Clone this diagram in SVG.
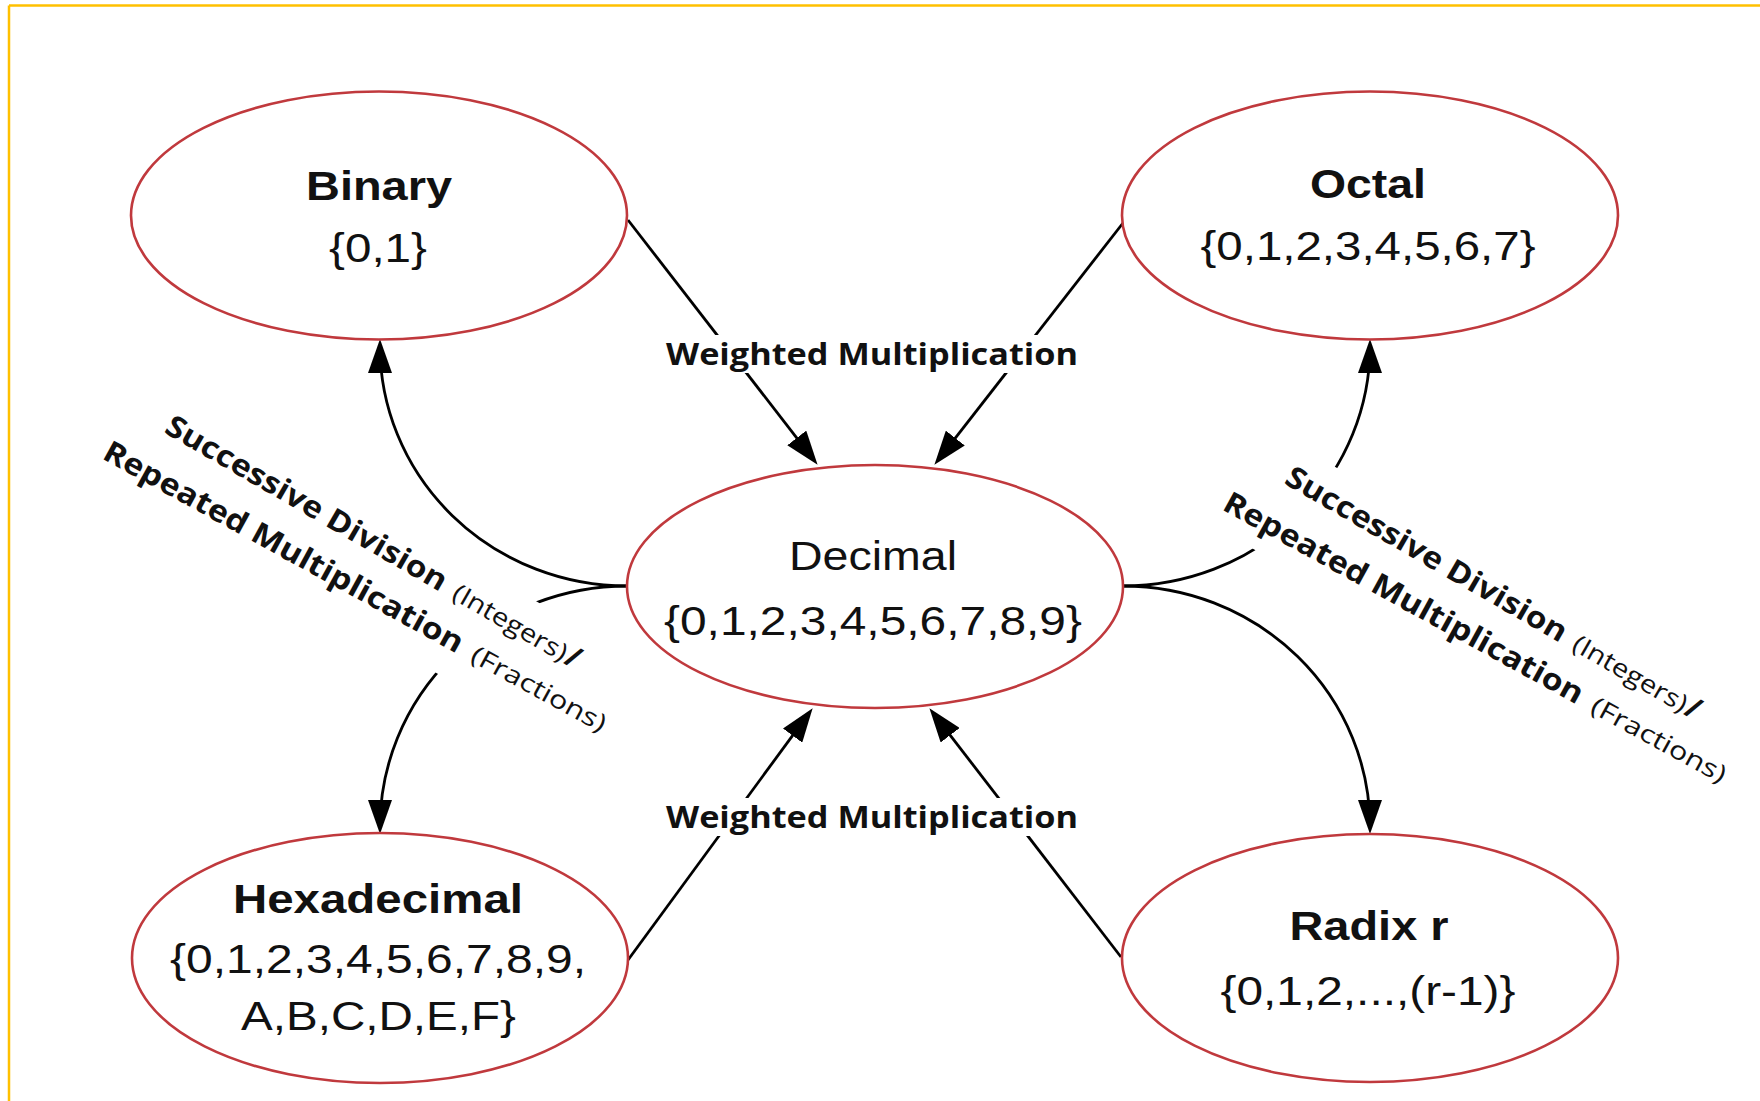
<svg xmlns="http://www.w3.org/2000/svg" width="1760" height="1101" viewBox="0 0 1760 1101">
<defs>
<style>
.node{fill:#ffffff;stroke:#C0393D;stroke-width:2.6}
.title{font-family:"Liberation Sans",Arial,sans-serif;font-weight:bold;font-size:41px;fill:#111}
.set{font-family:"Liberation Sans",Arial,sans-serif;font-size:41px;fill:#111}
.conn{fill:none;stroke:#000;stroke-width:2.8}
.lbl{font-family:"Open Sans","Noto Sans",sans-serif;font-weight:bold;font-size:31px;fill:#111}
.rl{font-family:"Open Sans","Noto Sans",sans-serif;font-weight:bold;font-size:30px;fill:#111}
.sm{font-family:"Open Sans","Noto Sans",sans-serif;font-size:25px;fill:#111}
.bg{fill:#ffffff}
</style>
<marker id="ah" viewBox="0 0 34 24" refX="27" refY="12" markerWidth="34" markerHeight="24" markerUnits="userSpaceOnUse" orient="auto">
<path d="M0,0 L34,12 L0,24 z" fill="#000"/>
</marker>
</defs>
<rect x="0" y="0" width="1760" height="1101" fill="#ffffff"/>
<g id="frame" stroke="#FFC000" stroke-width="2.5" fill="none">
<line x1="9" y1="5.5" x2="1760" y2="5.5"/>
<line x1="9" y1="5.5" x2="9" y2="1101"/>
</g>
<g id="connectors">
<line class="conn" x1="628" y1="220" x2="813.3" y2="459.3" marker-end="url(#ah)"/>
<line class="conn" x1="1123" y1="223" x2="938.7" y2="459.3" marker-end="url(#ah)"/>
<line class="conn" x1="628" y1="960" x2="808.5" y2="713.8" marker-end="url(#ah)"/>
<line class="conn" x1="1121" y1="957" x2="933.7" y2="713.8" marker-end="url(#ah)"/>
<path class="conn" d="M627,586 A247,240 0 0 1 380,346" marker-end="url(#ah)"/>
<path class="conn" d="M627,586 A247,241 0 0 0 380,827" marker-end="url(#ah)"/>
<path class="conn" d="M1123,586 A247,240 0 0 0 1370,346" marker-end="url(#ah)"/>
<path class="conn" d="M1123,586 A247,241 0 0 1 1370,827" marker-end="url(#ah)"/>
</g>
<g id="labels">
<rect class="bg" x="660" y="335" width="425" height="38"/>
<text class="lbl" x="872" y="365" text-anchor="middle" textLength="412" lengthAdjust="spacingAndGlyphs">Weighted Multiplication</text>
<rect class="bg" x="660" y="798" width="425" height="38"/>
<text class="lbl" x="872" y="828" text-anchor="middle" textLength="412" lengthAdjust="spacingAndGlyphs">Weighted Multiplication</text>
<g id="label-left">
<g transform="translate(163,432) rotate(30)">
<rect class="bg" x="-60" y="-40" width="650" height="112"/>
<text class="rl" x="0" y="0" textLength="320" lengthAdjust="spacingAndGlyphs">Successive Division</text>
<text class="sm" x="332" y="0" textLength="128" lengthAdjust="spacingAndGlyphs">(Integers)</text>
<text class="rl" x="462" y="0">/</text>
</g>
<g transform="translate(101,458) rotate(28.8)">
<text class="rl" x="0" y="0" textLength="406" lengthAdjust="spacingAndGlyphs">Repeated Multiplication</text>
<text class="sm" x="420" y="0" textLength="150" lengthAdjust="spacingAndGlyphs">(Fractions)</text>
</g>
</g>
<g id="label-right">
<g transform="translate(1283,483) rotate(30)">
<rect class="bg" x="-60" y="-40" width="650" height="112"/>
<text class="rl" x="0" y="0" textLength="320" lengthAdjust="spacingAndGlyphs">Successive Division</text>
<text class="sm" x="332" y="0" textLength="128" lengthAdjust="spacingAndGlyphs">(Integers)</text>
<text class="rl" x="462" y="0">/</text>
</g>
<g transform="translate(1221,509) rotate(28.8)">
<text class="rl" x="0" y="0" textLength="406" lengthAdjust="spacingAndGlyphs">Repeated Multiplication</text>
<text class="sm" x="420" y="0" textLength="150" lengthAdjust="spacingAndGlyphs">(Fractions)</text>
</g>
</g>
</g>
<g id="binary">
<ellipse class="node" cx="379" cy="215.5" rx="248" ry="124"/>
<text class="title" x="379" y="200" text-anchor="middle" textLength="146" lengthAdjust="spacingAndGlyphs">Binary</text>
<text class="set" x="378" y="262" text-anchor="middle" textLength="98" lengthAdjust="spacingAndGlyphs">{0,1}</text>
</g>
<g id="octal">
<ellipse class="node" cx="1370" cy="215.5" rx="248" ry="124"/>
<text class="title" x="1368" y="198" text-anchor="middle" textLength="116" lengthAdjust="spacingAndGlyphs">Octal</text>
<text class="set" x="1368" y="260" text-anchor="middle" textLength="335" lengthAdjust="spacingAndGlyphs">{0,1,2,3,4,5,6,7}</text>
</g>
<g id="decimal">
<ellipse class="node" cx="875" cy="586.5" rx="248" ry="121.5"/>
<text class="set" x="873" y="570" text-anchor="middle" textLength="168" lengthAdjust="spacingAndGlyphs">Decimal</text>
<text class="set" x="873" y="635" text-anchor="middle" textLength="418" lengthAdjust="spacingAndGlyphs">{0,1,2,3,4,5,6,7,8,9}</text>
</g>
<g id="hexadecimal">
<ellipse class="node" cx="380" cy="958" rx="248" ry="125"/>
<text class="title" x="378" y="913" text-anchor="middle" textLength="290" lengthAdjust="spacingAndGlyphs">Hexadecimal</text>
<text class="set" x="378" y="973" text-anchor="middle" textLength="416" lengthAdjust="spacingAndGlyphs">{0,1,2,3,4,5,6,7,8,9,</text>
<text class="set" x="378.5" y="1030" text-anchor="middle" textLength="275" lengthAdjust="spacingAndGlyphs">A,B,C,D,E,F}</text>
</g>
<g id="radix">
<ellipse class="node" cx="1370" cy="958" rx="248" ry="124"/>
<text class="title" x="1369" y="940" text-anchor="middle" textLength="159" lengthAdjust="spacingAndGlyphs">Radix r</text>
<text class="set" x="1368" y="1005" text-anchor="middle" textLength="295" lengthAdjust="spacingAndGlyphs">{0,1,2,...,(r-1)}</text>
</g>
</svg>
